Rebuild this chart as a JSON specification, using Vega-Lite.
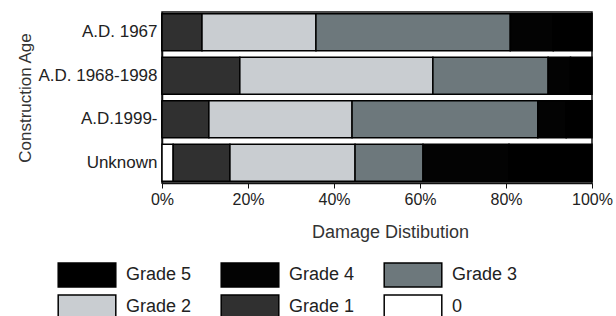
{
  "$schema": "https://vega.github.io/schema/vega-lite/v6.json",
  "width": 430,
  "height": 171,
  "autosize": "none",
  "padding": {"left": 162, "top": 12, "right": 24, "bottom": 133},
  "background": "white",
  "config": {
    "font": "Liberation Sans",
    "view": {"stroke": "#111", "strokeWidth": 1.5}
  },
  "data": {
    "values": [
      {"age": "A.D. 1967", "grade": "0", "rank": 0, "pct": 0},
      {"age": "A.D. 1967", "grade": "Grade 1", "rank": 1, "pct": 9.3},
      {"age": "A.D. 1967", "grade": "Grade 2", "rank": 2, "pct": 26.5},
      {"age": "A.D. 1967", "grade": "Grade 3", "rank": 3, "pct": 45.2},
      {"age": "A.D. 1967", "grade": "Grade 4", "rank": 4, "pct": 10},
      {"age": "A.D. 1967", "grade": "Grade 5", "rank": 5, "pct": 9},
      {"age": "A.D. 1968-1998", "grade": "0", "rank": 0, "pct": 0},
      {"age": "A.D. 1968-1998", "grade": "Grade 1", "rank": 1, "pct": 18.1},
      {"age": "A.D. 1968-1998", "grade": "Grade 2", "rank": 2, "pct": 44.9},
      {"age": "A.D. 1968-1998", "grade": "Grade 3", "rank": 3, "pct": 26.8},
      {"age": "A.D. 1968-1998", "grade": "Grade 4", "rank": 4, "pct": 5.2},
      {"age": "A.D. 1968-1998", "grade": "Grade 5", "rank": 5, "pct": 5},
      {"age": "A.D.1999-", "grade": "0", "rank": 0, "pct": 0},
      {"age": "A.D.1999-", "grade": "Grade 1", "rank": 1, "pct": 10.9},
      {"age": "A.D.1999-", "grade": "Grade 2", "rank": 2, "pct": 33.3},
      {"age": "A.D.1999-", "grade": "Grade 3", "rank": 3, "pct": 43.2},
      {"age": "A.D.1999-", "grade": "Grade 4", "rank": 4, "pct": 6.6},
      {"age": "A.D.1999-", "grade": "Grade 5", "rank": 5, "pct": 6},
      {"age": "Unknown", "grade": "0", "rank": 0, "pct": 2.6},
      {"age": "Unknown", "grade": "Grade 1", "rank": 1, "pct": 13.2},
      {"age": "Unknown", "grade": "Grade 2", "rank": 2, "pct": 29.1},
      {"age": "Unknown", "grade": "Grade 3", "rank": 3, "pct": 15.8},
      {"age": "Unknown", "grade": "Grade 4", "rank": 4, "pct": 20},
      {"age": "Unknown", "grade": "Grade 5", "rank": 5, "pct": 19.3}
    ]
  },
  "mark": {"type": "bar", "stroke": "#000", "strokeWidth": 1.5},
  "encoding": {
    "y": {
      "field": "age",
      "type": "nominal",
      "sort": ["A.D. 1967", "A.D. 1968-1998", "A.D.1999-", "Unknown"],
      "scale": {"paddingInner": 0.15, "paddingOuter": 0.04},
      "axis": {
        "title": "Construction Age",
        "titleFontSize": 17,
        "titleFontWeight": "normal",
        "titleColor": "#333",
        "titlePadding": 3,
        "labelFontSize": 17,
        "labelColor": "#222",
        "labelPadding": 5,
        "ticks": false,
        "domain": true,
        "domainColor": "#111",
        "domainWidth": 1.5
      }
    },
    "x": {
      "field": "pct",
      "type": "quantitative",
      "stack": "normalize",
      "scale": {"domain": [0, 1], "nice": false},
      "axis": {
        "title": "Damage Distibution",
        "format": ".0%",
        "values": [0, 0.2, 0.4, 0.6, 0.8, 1],
        "labelFlush": false,
        "grid": false,
        "titleFontSize": 18,
        "titleFontWeight": "normal",
        "titleColor": "#333",
        "titlePadding": 16,
        "titleX": 228,
        "labelFontSize": 16,
        "labelColor": "#222",
        "labelPadding": 3,
        "tickSize": 5,
        "tickColor": "#111",
        "domainColor": "#111",
        "domainWidth": 1.5
      }
    },
    "order": {"field": "rank", "type": "quantitative", "sort": "ascending"},
    "color": {
      "field": "grade",
      "type": "nominal",
      "scale": {
        "domain": ["Grade 5", "Grade 4", "Grade 3", "Grade 2", "Grade 1", "0"],
        "range": ["#000000", "#030303", "#6d787c", "#c9cdd1", "#303030", "#ffffff"]
      },
      "legend": {
        "title": null,
        "orient": "none",
        "legendX": -88,
        "legendY": 250,
        "columns": 3,
        "direction": "horizontal",
        "symbolType": "M-2.4,-1H2.4V1H-2.4Z",
        "symbolSize": 576,
        "symbolStrokeColor": "#000",
        "symbolStrokeWidth": 1.5,
        "symbolOpacity": 1,
        "labelFontSize": 18,
        "labelColor": "#222",
        "labelOffset": 26,
        "columnPadding": 26,
        "rowPadding": 2,
        "labelLimit": 120
      }
    }
  }
}
